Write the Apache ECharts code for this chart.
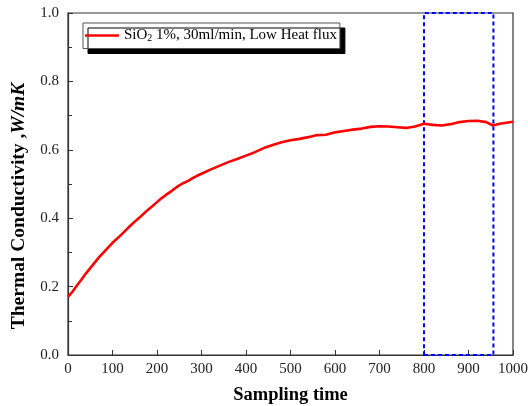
<!DOCTYPE html>
<html>
<head>
<meta charset="utf-8">
<script src="https://cdn.jsdelivr.net/npm/echarts@6/dist/echarts.min.js"></script>
<style>html,body{margin:0;padding:0;background:#fff}#c{width:528px;height:406px}</style>
</head>
<body>
<div id="c"></div>
<script>
var sampleTime = [0,10,20,30,40,50,60,70,80,90,100,110,120,130,140,150,160,170,180,190,200,210,220,230,240,250,260,270,280,290,300,320,340,360,380,400,420,440,460,480,500,520,540,560,580,600,620,640,660,680,700,720,740,760,780,800,820,840,860,880,900,920,940,955,970,985,1000];
var conductivity = [0.170,0.185,0.203,0.220,0.238,0.254,0.270,0.286,0.300,0.314,0.328,0.340,0.352,0.365,0.378,0.390,0.401,0.413,0.425,0.436,0.447,0.458,0.468,0.477,0.487,0.496,0.503,0.509,0.517,0.524,0.530,0.542,0.553,0.564,0.573,0.583,0.593,0.605,0.614,0.622,0.628,0.632,0.637,0.643,0.644,0.651,0.655,0.659,0.662,0.667,0.669,0.668,0.666,0.664,0.668,0.676,0.673,0.671,0.675,0.681,0.684,0.685,0.681,0.671,0.676,0.679,0.682];
var xTicks = [0,100,200,300,400,500,600,700,800,900,1000];
var yTicks = ['0.0','0.2','0.4','0.6','0.8','1.0'];
var boxRange = [800, 956];
var seriesName = 'SiO2 1%, 30ml/min, Low Heat flux';

var chart = echarts.init(document.getElementById('c'));
var serif = '"Liberation Serif","Times New Roman",serif';
chart.setOption({
  animation: false,
  grid: {left: 68, right: 15, top: 13, bottom: 51, show: true, borderColor: '#333', borderWidth: 1.2,
    containLabel: false, outerBoundsMode: 'none'},
  legend: {
    left: 83, top: 23,
    backgroundColor: '#fff', borderColor: '#555', borderWidth: 1,
    shadowColor: '#000', shadowOffsetX: 5, shadowOffsetY: 5, shadowBlur: 0,
    padding: [5, 3, 5, 2],
    itemWidth: 34, itemHeight: 2.5, itemGap: 4,
    formatter: function () { return '{a|SiO}{s|2}{a| 1%, 30ml/min, Low Heat flux}'; },
    textStyle: {
      fontFamily: serif, color: '#000',
      rich: {
        a: {fontFamily: serif, fontSize: 15, color: '#000'},
        s: {fontFamily: serif, fontSize: 10, color: '#000', verticalAlign: 'bottom', padding: [6, 0, 0, 0]}
      }
    },
    data: [{name: seriesName, icon: 'rect'}]
  },
  xAxis: {
    type: 'value', min: 0, max: 1000, interval: 100,
    name: 'Sampling time', nameLocation: 'middle', nameGap: 31,
    nameTextStyle: {fontFamily: serif, fontSize: 18.5, fontWeight: 'bold', color: '#000'},
    axisLine: {lineStyle: {color: '#333', width: 1.2}},
    axisTick: {inside: true, length: 5, lineStyle: {color: '#333'}},
    axisLabel: {fontFamily: serif, fontSize: 15, color: '#222', margin: 7,
      formatter: function (v) { return xTicks.indexOf(v) >= 0 ? String(v) : ''; }},
    splitLine: {show: false}
  },
  yAxis: {
    type: 'value', min: 0, max: 1, interval: 0.2,
    name: '{n|Thermal Conductivity ,}{i|W/mK}', nameLocation: 'middle', nameGap: 39, nameRotate: 90,
    nameTextStyle: {padding: [0, 44, 0, 0], rich: {
      n: {fontFamily: serif, fontSize: 19.5, fontWeight: 'bold', color: '#000'},
      i: {fontFamily: serif, fontSize: 19.5, fontWeight: 'bold', fontStyle: 'italic', color: '#000'}
    }},
    axisLine: {show: true, lineStyle: {color: '#333', width: 1.2}},
    axisTick: {show: true, inside: true, length: 5, lineStyle: {color: '#333'}},
    minorTick: {show: true, splitNumber: 2, length: 4, lineStyle: {color: '#333'}},
    axisLabel: {fontFamily: serif, fontSize: 15, color: '#222', margin: 9,
      formatter: function (v) { return yTicks[Math.round(v * 5)]; }},
    splitLine: {show: false}
  },
  series: [{
    name: seriesName, type: 'line', symbol: 'none', smooth: false,
    data: sampleTime.map(function (t, i) { return [t, conductivity[i]]; }),
    lineStyle: {color: '#ff0000', width: 2.6},
    itemStyle: {color: '#ff0000'},
    markArea: {
      silent: true,
      itemStyle: {color: 'rgba(0,0,0,0)', borderColor: '#0000ff', borderWidth: 2, borderType: [4, 3]},
      data: [[{xAxis: boxRange[0], yAxis: 0}, {xAxis: boxRange[1], yAxis: 1}]]
    }
  }]
});
</script>
</body>
</html>
